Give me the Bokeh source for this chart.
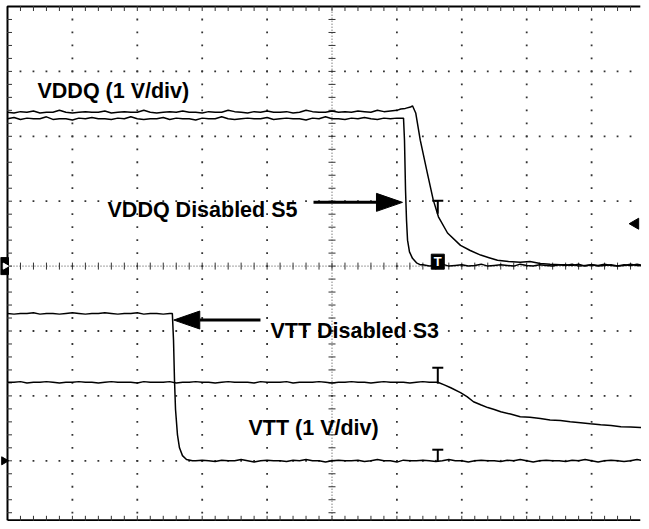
import numpy as np
from bokeh.plotting import figure
from bokeh.models import Range1d
from bokeh.core.properties import value
from bokeh.embed import file_html
from bokeh.resources import INLINE

PX = 64.9       # pixels per division (both directions)
W, H = 641, 521
LEFT_PX, TOP_PX = 7, 6   # where graticule x=0 / y=8 sit inside the figure

# channel ground positions (divisions from the bottom), 1 V/div
ch1_offset = 4.0   # VDDQ
ch2_offset = 1.0   # VTT

def samples(start, n):
    return np.round(start + 0.1 * np.arange(n), 2)

# ---------------- VDDQ, disabled in S5 (fast fall) ----------------
vddq_s5_flat = [2.27, 2.29, 2.26, 2.28, 2.27, 2.27, 2.30, 2.26, 2.27, 2.27,
                2.25, 2.28, 2.27, 2.29, 2.27, 2.27, 2.26, 2.28, 2.27, 2.30,
                2.27, 2.26, 2.27, 2.27, 2.29, 2.26, 2.28, 2.27, 2.27, 2.25,
                2.28, 2.27, 2.27, 2.30, 2.27, 2.26, 2.27, 2.28, 2.27, 2.27,
                2.29, 2.26, 2.27, 2.28, 2.27, 2.27, 2.25, 2.28, 2.27, 2.30,
                2.27, 2.27, 2.26, 2.28, 2.27, 2.29, 2.27, 2.26, 2.28, 2.27, 2.28]
vddq_s5_fall_t = [6.102, 6.117, 6.133, 6.148, 6.164, 6.194, 6.240, 6.302, 6.364]
vddq_s5_fall_v = [2.28, 1.94, 1.17, 0.71, 0.40, 0.22, 0.12, 0.05, 0.02]
vddq_s5_gnd = [0.02, 0.00, 0.01, 0.03, 0.00, 0.01, 0.02, 0.00, 0.01, 0.03,
               0.00, 0.01, 0.02, 0.01, 0.00, 0.03, 0.01, 0.00, 0.02, 0.01,
               0.00, 0.02, 0.01, 0.03, 0.00, 0.01, 0.02, 0.00, 0.01, 0.02,
               0.00, 0.01, 0.03, 0.01, 0.00, 0.02]

# ---------------- VDDQ, slow discharge ----------------
vddq_slow_flat = [2.37, 2.36, 2.38, 2.37, 2.39, 2.36, 2.37, 2.37, 2.40, 2.37,
                  2.36, 2.37, 2.38, 2.37, 2.37, 2.39, 2.36, 2.37, 2.38, 2.37,
                  2.37, 2.40, 2.37, 2.36, 2.37, 2.38, 2.37, 2.39, 2.37, 2.37,
                  2.36, 2.38, 2.37, 2.37, 2.40, 2.38, 2.37, 2.36, 2.38, 2.37,
                  2.39, 2.37, 2.37, 2.38, 2.36, 2.37, 2.40, 2.38, 2.37, 2.37,
                  2.39, 2.37, 2.38, 2.37, 2.39, 2.38, 2.37, 2.40, 2.38, 2.39]
vddq_slow_decay_t = [6.00, 6.06, 6.13, 6.21, 6.24, 6.29, 6.36, 6.47, 6.56, 6.64, 6.78,
                     6.98, 7.13, 7.29, 7.42, 7.55, 7.72, 7.90, 8.05, 8.21, 8.36, 8.52]
vddq_slow_decay_v = [2.40, 2.42, 2.43, 2.45, 2.47, 2.36, 1.94, 1.43, 1.02, 0.76, 0.51,
                     0.32, 0.24, 0.17, 0.13, 0.09, 0.07, 0.06, 0.07, 0.04, 0.03, 0.02]
vddq_slow_gnd = [0.02, 0.01, 0.03, 0.00, 0.02, 0.01, 0.03, 0.01, 0.00, 0.02,
                 0.01, 0.03, 0.01, 0.02]

# ---------------- VTT, disabled in S3 (fast fall) ----------------
vtt_s3_flat = [2.27, 2.26, 2.27, 2.27, 2.28, 2.26, 2.27, 2.27, 2.26, 2.27,
               2.28, 2.27, 2.26, 2.27, 2.27, 2.28, 2.27, 2.26, 2.27, 2.27,
               2.28, 2.26, 2.27, 2.27, 2.26, 2.27]
vtt_s3_fall_t = [2.54, 2.558, 2.573, 2.589, 2.619, 2.65, 2.696, 2.758, 2.85]
vtt_s3_fall_v = [2.27, 1.86, 1.25, 0.79, 0.40, 0.20, 0.08, 0.02, 0.00]
vtt_s3_gnd = [0.00, 0.01, 0.00, -0.01, 0.01, 0.00, 0.00, 0.02, 0.00, -0.02,
              0.00, 0.01, 0.00, 0.00, -0.01, 0.01, 0.00, 0.02, 0.00, 0.00,
              -0.02, 0.00, 0.01, 0.00, 0.00, 0.01, -0.01, 0.00, 0.02, 0.00,
              0.00, -0.02, 0.01, 0.00, 0.00, 0.01, 0.00, -0.01, 0.00, 0.02,
              0.00, 0.00, -0.02, 0.00, 0.01, 0.00, 0.00, -0.01, 0.01, 0.00,
              0.02, 0.00, -0.02, 0.00, 0.01, 0.00, 0.00, -0.01, 0.01, 0.00,
              0.02, 0.00, -0.02, 0.00, 0.01, 0.00, -0.01, 0.00, 0.02, 0.00, 0.01]

# ---------------- VTT, slow discharge ----------------
vtt_slow_flat = [1.21, 1.21, 1.22, 1.20, 1.21, 1.21, 1.22, 1.21, 1.20, 1.21,
                 1.21, 1.22, 1.21, 1.21, 1.20, 1.21, 1.22, 1.21, 1.21, 1.21,
                 1.20, 1.22, 1.21, 1.21, 1.21, 1.22, 1.20, 1.21, 1.21, 1.22,
                 1.21, 1.21, 1.20, 1.21, 1.22, 1.21, 1.21, 1.21, 1.20, 1.22,
                 1.21, 1.21, 1.21, 1.22, 1.20, 1.21, 1.21, 1.21, 1.22, 1.21,
                 1.20, 1.21, 1.21, 1.22, 1.21, 1.21, 1.20, 1.21, 1.22, 1.21,
                 1.21, 1.21, 1.20, 1.21, 1.22, 1.21, 1.21]
vtt_slow_decay_t = [6.63, 6.73, 6.83, 6.98, 7.08, 7.18, 7.30, 7.40, 7.50, 7.60, 7.75, 7.90,
                    8.05, 8.21, 8.36, 8.52, 8.67, 8.83, 8.98, 9.14, 9.30, 9.45, 9.60, 9.75, 9.90]
vtt_slow_decay_v = [1.21, 1.17, 1.125, 1.05, 0.99, 0.91, 0.86, 0.82, 0.79, 0.755, 0.72, 0.68,
                    0.67, 0.65, 0.63, 0.62, 0.60, 0.585, 0.57, 0.555, 0.545, 0.525, 0.52, 0.515, 0.51]

# ---------------- annotations ----------------
label_text = ["VDDQ (1 V/div)", "VDDQ Disabled S5", "VTT Disabled S3", "VTT (1 V/div)"]
label_t = [0.462, 1.541, 4.052, 3.713]
label_y = [6.692, 4.861, 3.005, 1.502]

arrow_tail_t = [4.715, 3.898]
arrow_tip_t = [6.086, 2.562]
arrow_y = [4.982, 3.169]

trigger_t = 6.63
tmark_top = [5.008, 2.434, 1.171]
tmark_bottom = [4.807, 2.188, 0.986]
ch1_trig_box_y = 4.068
trig_level_y = 4.653

# ---------------- figure ----------------
x0 = -LEFT_PX / PX
x1 = x0 + W / PX
y1 = 8 + TOP_PX / PX
y0 = y1 - H / PX
p = figure(width=W, height=H, output_backend="svg", toolbar_location=None,
           x_range=Range1d(x0, x1), y_range=Range1d(y0, y1),
           x_axis_location=None, y_axis_location=None,
           min_border_left=0, min_border_right=0, min_border_top=0, min_border_bottom=0)
p.grid.visible = False
p.background_fill_color = "white"
p.border_fill_color = "white"
p.outline_line_color = None
p.outline_line_alpha = 0.0
p.outline_line_width = 0

minor_x = np.round(np.arange(1, 50) * 0.2, 2)
minor_y = np.round(np.arange(1, 40) * 0.2, 2)

# dotted graticule
gx, gy = [], []
for xv in [1, 2, 3, 4, 6, 7, 8, 9]:
    gx += [xv] * len(minor_y); gy += list(minor_y)
for yv in [1, 2, 3, 5, 6, 7]:
    gx += list(minor_x); gy += [yv] * len(minor_x)
p.scatter(gx, gy, marker="square", size=1.8, fill_color="#333", line_color=None)

# center axes with ticks
p.line([5, 5], [0, 8], line_dash="1 2", line_color="#444", line_width=1)
p.line([0, 9.75], [4, 4], line_dash="1 2", line_color="#444", line_width=1)
p.scatter([5] * len(minor_y), minor_y, marker="dash", size=7, line_color="#333", line_width=1)
p.scatter(minor_x, [4] * len(minor_x), marker="dash", size=7, angle=np.pi / 2,
          line_color="#333", line_width=1)

# frame (left, top, bottom; the right edge lies outside the picture)
bottom_y = y0 + 1.2 / PX
p.line([0, 0, 9.75], [bottom_y, 8, 8], line_color="black", line_width=2)
p.line([0, 9.75], [bottom_y, bottom_y], line_color="black", line_width=2)
p.scatter(minor_x, [bottom_y + 2 / PX] * len(minor_x), marker="dash", size=5, angle=np.pi / 2,
          line_color="#333")
p.scatter(minor_x, [8 - 2 / PX] * len(minor_x), marker="dash", size=5, angle=np.pi / 2,
          line_color="#333")
p.scatter([2 / PX] * len(minor_y), minor_y, marker="dash", size=5, line_color="#333")

# traces
a_t = np.concatenate([samples(0, len(vddq_s5_flat)), vddq_s5_fall_t, samples(6.4, len(vddq_s5_gnd))])
a_v = np.concatenate([vddq_s5_flat, vddq_s5_fall_v, vddq_s5_gnd])
b_t = np.concatenate([samples(0, len(vddq_slow_flat)), vddq_slow_decay_t, samples(8.6, len(vddq_slow_gnd))])
b_v = np.concatenate([vddq_slow_flat, vddq_slow_decay_v, vddq_slow_gnd])
c_t = np.concatenate([samples(0, len(vtt_s3_flat)), vtt_s3_fall_t, samples(2.9, len(vtt_s3_gnd))])
c_v = np.concatenate([vtt_s3_flat, vtt_s3_fall_v, vtt_s3_gnd])
d_t = np.concatenate([samples(0, len(vtt_slow_flat)), vtt_slow_decay_t])
d_v = np.concatenate([vtt_slow_flat, vtt_slow_decay_v])

for t, v, off in [(a_t, a_v, ch1_offset), (b_t, b_v, ch1_offset),
                  (c_t, c_v, ch2_offset), (d_t, d_v, ch2_offset)]:
    p.line(t, np.asarray(v) + off, line_color="black", line_width=1.5)

# trigger "T" markers
bar = 5.5 / PX
p.segment(x0=[trigger_t] * 3, y0=tmark_top, x1=[trigger_t] * 3, y1=tmark_bottom,
          line_color="black", line_width=2)
p.segment(x0=[trigger_t - bar] * 3, y0=tmark_top, x1=[trigger_t + bar] * 3, y1=tmark_top,
          line_color="black", line_width=2)
p.rect([trigger_t], [ch1_trig_box_y], width=13 / PX, height=15 / PX,
       fill_color="black", line_color="black")
p.text([trigger_t], [ch1_trig_box_y], text=["T"], text_color="white",
       text_font=value("Liberation Sans"), text_font_style="bold", text_font_size="13px",
       text_align="center", text_baseline="middle")

# trigger level marker (right) and channel ground markers (left, outside the graticule)
p.scatter([x1 - 6 / PX], [trig_level_y], marker="triangle", size=11, angle=np.pi / 2,
          fill_color="black", line_color="black")
p.rect([-3 / PX], [ch1_offset], width=8 / PX, height=17 / PX,
       fill_color="black", line_color="black")
p.scatter([-2.5 / PX], [ch1_offset], marker="triangle", size=6, angle=-np.pi / 2,
          fill_color="white", line_color="white")
p.scatter([-3.5 / PX], [ch2_offset], marker="triangle", size=8, angle=-np.pi / 2,
          fill_color="black", line_color="black")

# arrows
head_len = 26 / PX
head_half = 9 / PX
xs_heads, ys_heads, sx0, sx1 = [], [], [], []
for tail, tip, yv in zip(arrow_tail_t, arrow_tip_t, arrow_y):
    d = 1 if tip > tail else -1
    base = tip - d * head_len
    xs_heads.append([tip, base, base])
    ys_heads.append([yv, yv + head_half, yv - head_half])
    sx0.append(tail); sx1.append(base)
p.segment(x0=sx0, y0=arrow_y, x1=sx1, y1=arrow_y, line_color="black", line_width=3)
p.patches(xs_heads, ys_heads, fill_color="black", line_color="black")

# labels
p.text(label_t, label_y, text=label_text, text_color="black",
       text_font=value("Liberation Sans"), text_font_style="bold", text_font_size="21.5px",
       text_align="left", text_baseline="alphabetic")

open("out.html", "w").write(file_html(p, INLINE))
